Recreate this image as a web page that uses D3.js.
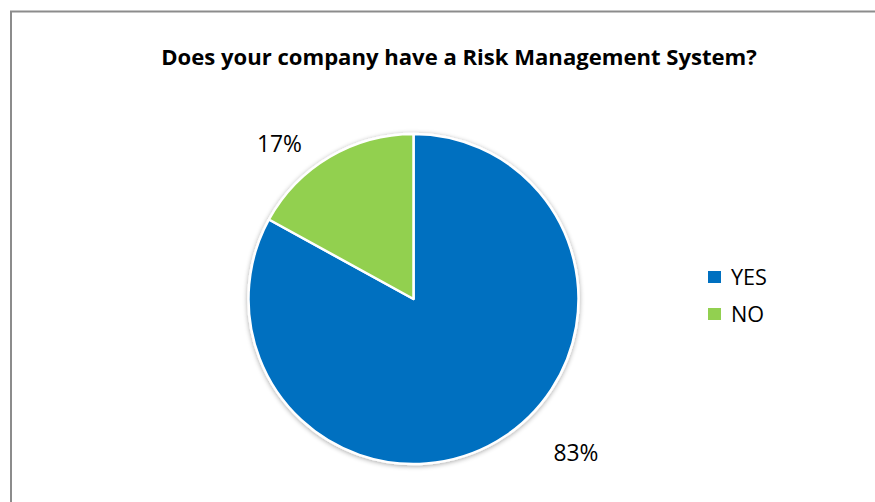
<!DOCTYPE html>
<html>
<head>
<meta charset="utf-8">
<script src="https://cdn.jsdelivr.net/npm/d3@7"></script>
<style>
  body { margin: 0; background: #fff; }
  svg { display: block; }
</style>
</head>
<body>
<svg id="chart" width="875" height="502"></svg>
<script>
const categories = ["YES", "NO"];
const values = [83, 17];
const labels = ["83%", "17%"];
const colors = ["#0070C0", "#92D050"];

const svg = d3.select("#chart");
const W = 875, H = 502;
const font = "'Open Sans', 'Noto Sans', sans-serif";

// size a text element so it spans the given width
function fitWidth(sel, width) {
  const node = sel.node();
  const fs = parseFloat(sel.attr("font-size"));
  const w = node.getComputedTextLength();
  sel.attr("font-size", (fs * width / w).toFixed(2));
}

// frame
svg.append("path")
  .attr("d", `M11,${H + 5} L11,11.5 L${W + 5},11.5`)
  .attr("fill", "none").attr("stroke", "#8c8c8c").attr("stroke-width", 2);

// title
const title = svg.append("text")
  .attr("x", 459).attr("y", 65)
  .attr("text-anchor", "middle")
  .attr("font-family", font).attr("font-weight", "bold").attr("font-size", 20)
  .attr("fill", "#000")
  .text("Does your company have a Risk Management System?");
fitWidth(title, 596);

const cx = 413.5, cy = 299, r = 165;
const defs = svg.append("defs");
const f = defs.append("filter").attr("id", "shadow").attr("x", "-20%").attr("y", "-20%").attr("width", "140%").attr("height", "140%");
f.append("feGaussianBlur").attr("in", "SourceAlpha").attr("stdDeviation", 2.5).attr("result", "b");
f.append("feOffset").attr("in", "b").attr("dx", 0).attr("dy", 1).attr("result", "o");
f.append("feComponentTransfer").attr("in", "o").attr("result", "s")
  .append("feFuncA").attr("type", "linear").attr("slope", 0.35);
const m = f.append("feMerge");
m.append("feMergeNode").attr("in", "s");
m.append("feMergeNode").attr("in", "SourceGraphic");

const pie = d3.pie().sort(null).value(d => d)(values);
const arc = d3.arc().innerRadius(0).outerRadius(r);

const g = svg.append("g").attr("transform", `translate(${cx},${cy})`).attr("filter", "url(#shadow)");
g.selectAll("path").data(pie).join("path")
  .attr("d", arc)
  .attr("fill", (d, i) => colors[i])
  .attr("stroke", "#fff").attr("stroke-width", 2.5).attr("stroke-linejoin", "round");

// data labels outside the pie
const labelPos = [[576, 461], [279.5, 152]];
svg.selectAll("text.lbl").data(pie).join("text")
  .attr("class", "lbl")
  .attr("x", (d, i) => labelPos[i][0]).attr("y", (d, i) => labelPos[i][1])
  .attr("text-anchor", "middle")
  .attr("font-family", font).attr("font-size", 20).attr("fill", "#000")
  .text((d, i) => labels[i])
  .each(function () { fitWidth(d3.select(this), 45); });

// legend
const lg = svg.append("g").attr("transform", "translate(708,271)");
categories.forEach((c, i) => {
  const row = lg.append("g").attr("transform", `translate(0,${i * 37})`);
  row.append("rect").attr("width", 13).attr("height", 12).attr("fill", colors[i]);
  const t = row.append("text").attr("x", 23).attr("y", 14)
    .attr("font-family", font).attr("font-size", 19).attr("fill", "#000").text(c);
  if (i === 0) fitWidth(t, 36);
  else t.attr("font-size", lg.select("text").attr("font-size"));
});
</script>
</body>
</html>
